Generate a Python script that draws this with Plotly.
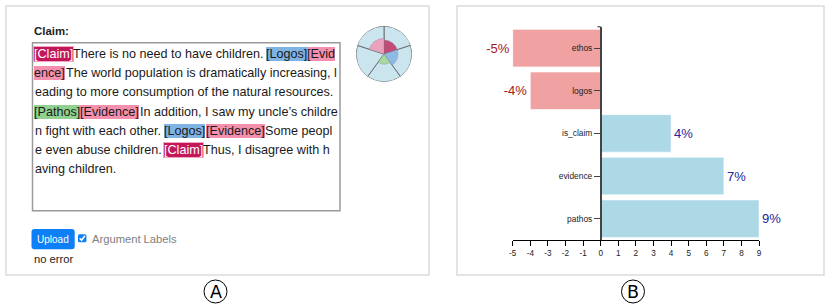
import plotly.graph_objects as go

W, H = 830, 307
FONT = "Liberation Sans, Arial, Helvetica, sans-serif"

# ---------------- data ----------------
bar_categories = ["ethos", "logos", "is_claim", "evidence", "pathos"]
bar_values = [-5, -4, 4, 7, 9]
x_ticks = list(range(-5, 10))
x_tick_labels = [str(v) for v in x_ticks]

polar_labels = ["claim", "logos", "pathos", "ethos", "evidence"]
polar_values = [0.50, 0.50, 0.36, 0.0, 0.56]
polar_theta = [36, 108, 180, 252, 324]
polar_colors = ["#c24b77", "#8dbbe6", "#a6d9a2", "#e9a3bf", "#e9a3bf"]

text_lines = [
    [("[Claim]", "claim"), ("There is no need to have children. ", None), ("[Logos]", "logos"), ("[Evid", "evidence")],
    [("ence]", "evidence"), ("The world population is dramatically increasing, l", None)],
    [("eading to more consumption of the natural resources.", None)],
    [("[Pathos]", "pathos"), ("[Evidence]", "evidence"), ("In addition, I saw my uncle\u2019s childre", None)],
    [("n fight with each other. ", None), ("[Logos]", "logos"), ("[Evidence]", "evidence"), ("Some peopl", None)],
    [("e even abuse children. ", None), ("[Claim]", "claim"), ("Thus, I disagree with h", None)],
    [("aving children.", None)],
]

TAG_STYLE = {
    "claim": dict(bg="#c2185b", fg="white", border="#f3a6c0", bw=1),
    "logos": dict(bg="#7fb3e3", fg="#1a1a1a", border="rgba(0,0,0,0)", bw=0),
    "evidence": dict(bg="#f48fae", fg="#1a1a1a", border="rgba(0,0,0,0)", bw=0),
    "pathos": dict(bg="#90d190", fg="#1a1a1a", border="rgba(0,0,0,0)", bw=0),
}


def X(px):
    return px / W


def Y(py):
    return 1 - py / H


AW = {' ': 278, '[': 278, ']': 278, '.': 278, ',': 278, '\u2019': 222, "'": 191, ':': 278,
      'A': 667, 'C': 722, 'E': 667, 'I': 278, 'L': 556, 'P': 667, 'S': 667, 'T': 611,
      'a': 556, 'b': 556, 'c': 500, 'd': 556, 'e': 556, 'f': 278, 'g': 556, 'h': 556, 'i': 222,
      'j': 222, 'k': 500, 'l': 222, 'm': 833, 'n': 556, 'o': 556, 'p': 556, 'q': 556, 'r': 333,
      's': 500, 't': 278, 'u': 556, 'v': 500, 'w': 722, 'x': 500, 'y': 500, 'z': 500}


def tw(s, size):
    return sum(AW.get(c, 556) for c in s) / 1000.0 * size


fig = go.Figure()

# ---------------- bar chart (panel B) ----------------
bar_colors = ["#f0a1a1" if v < 0 else "#add8e6" for v in bar_values]
label_colors = ["#a31818" if v < 0 else "#23239e" for v in bar_values]
fig.add_trace(go.Bar(
    y=bar_categories, x=bar_values, orientation="h",
    marker=dict(color=bar_colors, line=dict(color="rgba(255,255,255,0.6)", width=1)),
    text=[f"{v}%" for v in bar_values], textposition="outside",
    textfont=dict(size=13, color=label_colors, family=FONT),
    cliponaxis=False, showlegend=False, hoverinfo="x+y",
))

# ---------------- polar glyph (panel A) ----------------
fig.add_trace(go.Barpolar(
    r=[1] * len(polar_theta), theta=polar_theta, width=[72] * len(polar_theta),
    marker=dict(color="#cbe5ee", line=dict(color="#666666", width=0.9)),
    showlegend=False, hoverinfo="skip",
))
fig.add_trace(go.Barpolar(
    r=polar_values, theta=polar_theta, width=[72] * len(polar_theta),
    marker=dict(color=polar_colors, line=dict(color="rgba(120,120,120,0.5)", width=0.6)),
    text=polar_labels, showlegend=False, hoverinfo="text+r",
))

shapes = []
annotations = []

# panel borders
for x0, x1 in [(6, 429), (457, 824)]:
    shapes.append(dict(type="rect", xref="paper", yref="paper", x0=X(x0), x1=X(x1), y0=Y(275), y1=Y(6),
                       line=dict(color="#dcdcdc", width=1.5), layer="below"))

# textarea box
shapes.append(dict(type="rect", xref="paper", yref="paper", x0=X(32.5), x1=X(340), y0=Y(210.7), y1=Y(42.7),
                   line=dict(color="#9a9a9a", width=1.5), layer="below"))

# "Claim:" label
annotations.append(dict(text="<b>Claim:</b>", x=X(32), y=Y(30.5), xref="paper", yref="paper",
                        xanchor="left", yanchor="middle", showarrow=False,
                        font=dict(family=FONT, size=11.4, color="#222222")))

# body text with argument labels
FS = 12.6
y0, dy = 54.0, 19.2
for li, segs in enumerate(text_lines):
    x = 34.0
    yc = y0 + li * dy
    for seg, tag in segs:
        w = tw(seg, FS)
        txt = seg.strip()
        if tag is None:
            annotations.append(dict(text=txt, x=X(x), y=Y(yc), xref="paper", yref="paper",
                                    xanchor="left", yanchor="middle", showarrow=False, borderpad=0,
                                    font=dict(family=FONT, size=FS, color="#1a1a1a")))
        else:
            st = TAG_STYLE[tag]
            annotations.append(dict(text=txt, x=X(x - st["bw"]), y=Y(yc), xref="paper", yref="paper",
                                    xanchor="left", yanchor="middle", showarrow=False, borderpad=0,
                                    bgcolor=st["bg"], bordercolor=st["border"], borderwidth=st["bw"],
                                    font=dict(family=FONT, size=FS, color=st["fg"])))
            w -= 1.2 * st["bw"]
        x += w


def rounded_rect_path(x0, y0, x1, y1, r):
    pts = [
        f"M {X(x0 + r)} {Y(y0)}", f"L {X(x1 - r)} {Y(y0)}", f"Q {X(x1)} {Y(y0)} {X(x1)} {Y(y0 + r)}",
        f"L {X(x1)} {Y(y1 - r)}", f"Q {X(x1)} {Y(y1)} {X(x1 - r)} {Y(y1)}",
        f"L {X(x0 + r)} {Y(y1)}", f"Q {X(x0)} {Y(y1)} {X(x0)} {Y(y1 - r)}",
        f"L {X(x0)} {Y(y0 + r)}", f"Q {X(x0)} {Y(y0)} {X(x0 + r)} {Y(y0)}", "Z",
    ]
    return " ".join(pts)


# Upload button
shapes.append(dict(type="path", xref="paper", yref="paper", path=rounded_rect_path(31.5, 229, 74.7, 249.3, 3),
                   fillcolor="#0d7ff7", line=dict(width=0)))
annotations.append(dict(text="Upload", x=X(53.1), y=Y(239.3), xref="paper", yref="paper",
                        xanchor="center", yanchor="middle", showarrow=False,
                        font=dict(family=FONT, size=10, color="white")))
# checkbox
shapes.append(dict(type="path", xref="paper", yref="paper", path=rounded_rect_path(78, 234.3, 86.4, 242.3, 1.5),
                   fillcolor="#0d7ff7", line=dict(width=0)))
shapes.append(dict(type="path", xref="paper", yref="paper",
                   path=f"M {X(79.7)} {Y(238.3)} L {X(81.6)} {Y(240.3)} L {X(84.9)} {Y(235.8)}",
                   line=dict(color="white", width=1.6)))
annotations.append(dict(text="Argument Labels", x=X(89.7), y=Y(238.8), xref="paper", yref="paper",
                        xanchor="left", yanchor="middle", showarrow=False,
                        font=dict(family=FONT, size=11.2, color="#808080")))
annotations.append(dict(text="no error", x=X(31.5), y=Y(258.5), xref="paper", yref="paper",
                        xanchor="left", yanchor="middle", showarrow=False,
                        font=dict(family=FONT, size=11.2, color="#1a1a1a")))

# circled panel letters
for letter, cx in [("A", 215.5), ("B", 633.0)]:
    r = 11.5
    shapes.append(dict(type="circle", xref="paper", yref="paper", x0=X(cx - r), x1=X(cx + r),
                       y0=Y(291.5 + r), y1=Y(291.5 - r), line=dict(color="black", width=1)))
    annotations.append(dict(text=letter, x=X(cx), y=Y(291.8), xref="paper", yref="paper",
                            xanchor="center", yanchor="middle", showarrow=False,
                            font=dict(family="DejaVu Sans, sans-serif", size=17.5, color="black")))

# outer tick at the top of the category axis
shapes.append(dict(type="line", xref="paper", yref="paper", x0=X(597.5), x1=X(600.7), y0=Y(26.8), y1=Y(26.8),
                   line=dict(color="#444444", width=1.2)))

fig.update_layout(
    width=W, height=H, margin=dict(l=0, r=0, t=0, b=0),
    paper_bgcolor="white", plot_bgcolor="rgba(0,0,0,0)",
    template="none", showlegend=False, bargap=0.12,
    xaxis=dict(domain=[X(512.7), X(759.1)], range=[-5, 9], tickvals=x_ticks, ticktext=x_tick_labels,
               ticks="outside", ticklen=5, tickwidth=1, tickcolor="black",
               showline=True, linecolor="black", linewidth=1, showgrid=False, zeroline=False,
               tickfont=dict(family=FONT, size=8.2, color="#222222"), anchor="y", fixedrange=True),
    yaxis=dict(domain=[Y(240), Y(26.8)], type="category", categoryorder="array",
               categoryarray=bar_categories, autorange="reversed",
               anchor="free", position=X(600.7), showline=True, linecolor="#444444", linewidth=1.5,
               ticks="outside", ticklen=6, tickcolor="#444444", showgrid=False, zeroline=False,
               tickfont=dict(family=FONT, size=8.4, color="#222222"), fixedrange=True),
    polar=dict(domain=dict(x=[X(356), X(412)], y=[Y(82), Y(26)]), bgcolor="rgba(0,0,0,0)",
               barmode="overlay", bargap=0, hole=0,
               radialaxis=dict(visible=False, range=[0, 1]),
               angularaxis=dict(visible=False, rotation=90, direction="clockwise")),
    shapes=shapes, annotations=annotations,
)

fig.write_html(
    "out.html",
    config={"displayModeBar": False},
    post_script="document.body.style.margin='0';document.body.style.padding='0';document.body.style.overflow='hidden';",
)
